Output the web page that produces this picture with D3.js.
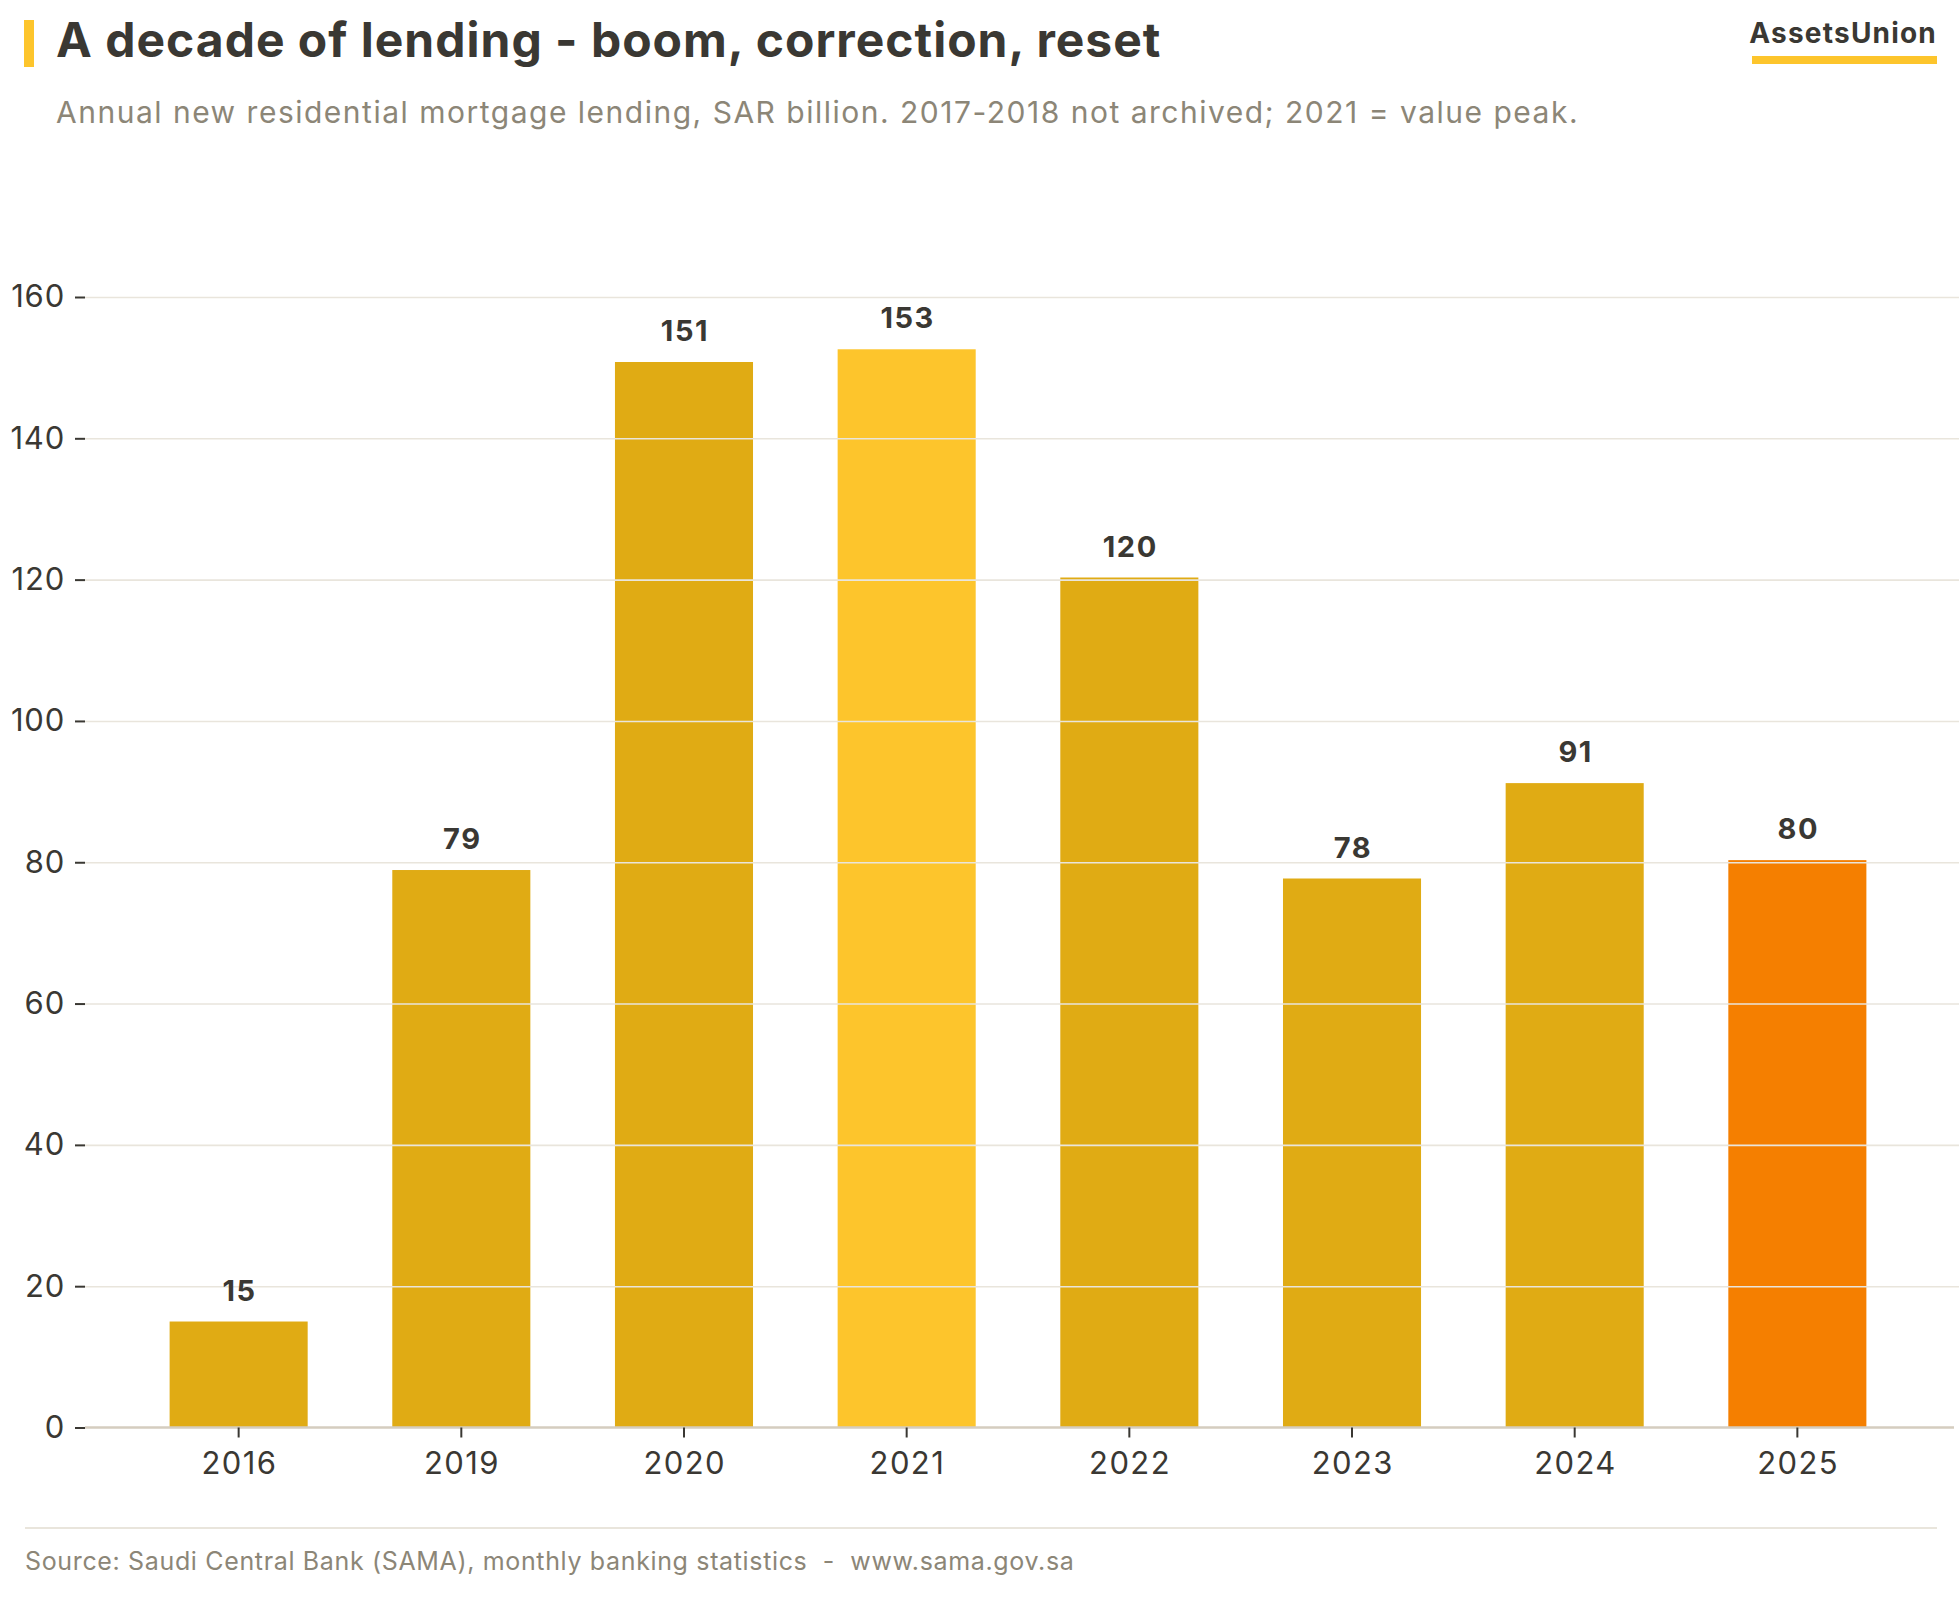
<!DOCTYPE html>
<html>
<head>
<meta charset="utf-8">
<script src="https://cdn.jsdelivr.net/npm/d3@7"></script>
<style>
  body { margin: 0; background: #fff; }
  svg { display: block; font-family: Inter, "Noto Sans", sans-serif; }
</style>
</head>
<body>
<svg id="vis" width="1960" height="1600"></svg>
<script>
// annual new residential mortgage lending, SAR bn
var years = ["2016", "2019", "2020", "2021", "2022", "2023", "2024", "2025"];
var lending = [15.0, 78.9, 150.8, 152.6, 120.3, 77.7, 91.2, 80.3];
var yTicks = [0, 20, 40, 60, 80, 100, 120, 140, 160];
var highlight = { "2021": "#fdc52c", "2025": "#f57f00" };

var svg = d3.select("#vis"),
    width = +svg.attr("width"),
    height = +svg.attr("height");

var margin = { top: 297, right: 9, bottom: 172.5, left: 85 };

var data = years.map(function(y, i) { return { year: y, value: lending[i] }; });

var x = d3.scaleBand()
    .domain(years)
    .range([margin.left, width - margin.right])
    .paddingInner(0.38)
    .paddingOuter(0.38);

var y = d3.scaleLinear()
    .domain([0, 160])
    .range([height - margin.bottom, margin.top]);

// header
svg.append("rect")
    .attr("x", 24).attr("y", 20)
    .attr("width", 10).attr("height", 47)
    .attr("fill", "#fdc52c");

svg.append("text")
    .attr("x", 56).attr("y", 57)
    .attr("font-size", 48)
    .attr("font-weight", 700)
    .attr("letter-spacing", 1)
    .attr("fill", "#3a3833")
    .text("A decade of lending - boom, correction, reset");

svg.append("text")
    .attr("x", 56).attr("y", 123)
    .attr("font-size", 30)
    .attr("letter-spacing", 1.5)
    .attr("fill", "#8c8677")
    .text("Annual new residential mortgage lending, SAR billion. 2017-2018 not archived; 2021 = value peak.");

svg.append("text")
    .attr("x", 1937).attr("y", 43)
    .attr("text-anchor", "end")
    .attr("font-size", 28)
    .attr("font-weight", 700)
    .attr("letter-spacing", 1.2)
    .attr("fill", "#3a3833")
    .text("AssetsUnion");

svg.append("rect")
    .attr("x", 1752).attr("y", 56)
    .attr("width", 185).attr("height", 8)
    .attr("fill", "#fdc52c");

// bars
svg.append("g")
    .attr("class", "bars")
  .selectAll("rect")
  .data(data)
  .enter().append("rect")
    .attr("x", function(d) { return x(d.year); })
    .attr("y", function(d) { return y(d.value); })
    .attr("width", x.bandwidth())
    .attr("height", function(d) { return y(0) - y(d.value); })
    .attr("fill", function(d) { return highlight[d.year] || "#e0ab14"; });

// gridlines sit over the bars
var yAxis = svg.append("g")
    .attr("class", "y-axis")
    .attr("transform", "translate(" + margin.left + ",0)")
    .call(d3.axisLeft(y).tickValues(yTicks).tickSize(10).tickPadding(10));

yAxis.select(".domain").remove();
yAxis.selectAll(".tick line").attr("stroke", "#3a3833").attr("stroke-width", 2);
yAxis.selectAll(".tick text")
    .attr("font-size", 31)
    .attr("letter-spacing", 0.8)
    .attr("fill", "#3a3833")
    .attr("font-family", "Inter, sans-serif");

yAxis.selectAll(".tick")
    .filter(function(d) { return d !== 0; })
  .append("line")
    .attr("x1", 0)
    .attr("x2", width - margin.right - margin.left + 8)
    .attr("stroke", "#e9e5dc")
    .attr("stroke-width", 1.6);

var xAxis = svg.append("g")
    .attr("class", "x-axis")
    .attr("transform", "translate(0," + y(0) + ")")
    .call(d3.axisBottom(x).tickSize(10).tickPadding(14).tickSizeOuter(0));

xAxis.select(".domain")
    .attr("stroke", "#d5cdbf")
    .attr("stroke-width", 2.5)
    .attr("d", "M" + margin.left + ",0H" + (width - 6));
xAxis.selectAll(".tick line").attr("stroke", "#3a3833").attr("stroke-width", 2);
xAxis.selectAll(".tick text")
    .attr("font-size", 31)
    .attr("letter-spacing", 1.4)
    .attr("dx", 0.7)
    .attr("fill", "#3a3833")
    .attr("font-family", "Inter, sans-serif");

// value labels
svg.append("g")
    .attr("class", "labels")
  .selectAll("text")
  .data(data)
  .enter().append("text")
    .attr("x", function(d) { return x(d.year) + x.bandwidth() / 2 + 1; })
    .attr("y", function(d) { return y(d.value) - 21; })
    .attr("text-anchor", "middle")
    .attr("font-size", 29)
    .attr("font-weight", 700)
    .attr("letter-spacing", 1.6)
    .attr("fill", "#3a3833")
    .text(function(d) { return Math.round(d.value); });

// footer
svg.append("line")
    .attr("x1", 25).attr("x2", 1937)
    .attr("y1", 1528).attr("y2", 1528)
    .attr("stroke", "#e9e5dc")
    .attr("stroke-width", 2);

svg.append("text")
    .attr("x", 25).attr("y", 1570)
    .attr("font-size", 25)
    .attr("letter-spacing", 0.65)
    .attr("fill", "#8c8677")
    .text("Source: Saudi Central Bank (SAMA), monthly banking statistics  -  www.sama.gov.sa")
    .attr("xml:space", "preserve")
    .style("white-space", "pre");
</script>
</body>
</html>
